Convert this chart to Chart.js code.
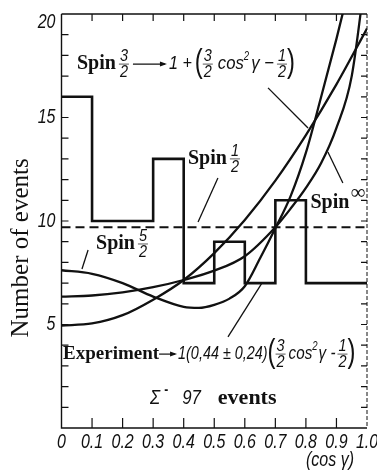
<!DOCTYPE html>
<html>
<head>
<meta charset="utf-8">
<script src="https://cdn.jsdelivr.net/npm/chart.js@4/dist/chart.umd.min.js"></script>
<style>
  html, body { margin: 0; padding: 0; background: #fff; }
  #wrap { width: 377px; height: 470px; position: relative; }
</style>
</head>
<body>
<div id="wrap"><canvas id="c" width="377" height="470"></canvas></div>
<script>
// Σ⁻ decay: distribution of cos γ for 97 events, ten bins of width 0.1
const binEdges    = [0, 0.1, 0.2, 0.3, 0.4, 0.5, 0.6, 0.7, 0.8, 0.9, 1.0];
const eventCounts = [16, 10, 10, 13, 7, 9, 7, 11, 7, 7];

// spin 1/2: isotropic level (97 events / 10 bins)
const isotropicLevel = 9.7;

// spin 3/2 prediction
const spin32Cos    = [0, 0.1, 0.2, 0.3, 0.4, 0.5, 0.6, 0.7, 0.8, 0.9, 1.0];
const spin32Events = [4.95, 5.05, 5.45, 6.2, 7.15, 8.45, 10.05, 11.95, 14.15, 16.6, 19.3];

// spin 5/2 prediction
const spin52Cos    = [0, 0.1, 0.2, 0.3, 0.4, 0.45, 0.5, 0.55, 0.6, 0.65, 0.7, 0.75, 0.8, 0.85, 0.9, 0.95];
const spin52Events = [7.62, 7.45, 7.0, 6.35, 5.85, 5.8, 5.95, 6.25, 6.85, 8.2, 9.65, 11.2, 13.3, 16.0, 18.8, 21.8];

// spin ∞ prediction
const spinInfCos    = [0, 0.1, 0.2, 0.3, 0.4, 0.5, 0.6, 0.7, 0.75, 0.8, 0.85, 0.9, 0.95, 1.0];
const spinInfEvents = [6.35, 6.4, 6.55, 6.8, 7.15, 7.6, 8.3, 9.7, 10.6, 11.6, 12.8, 14.5, 17.0, 22.5];

// axis labels
const xTickLabels = ['0', '0.1', '0.2', '0.3', '0.4', '0.5', '0.6', '0.7', '0.8', '0.9', '1.0'];
const yTickLabels = ['', '5', '10', '15', '20'];

const pts = (xs, ys) => xs.map((x, i) => ({ x, y: ys[i] }));

const SANS  = "'Liberation Sans', Arimo, 'DejaVu Sans', sans-serif";
const SERIF = "'Liberation Serif', 'DejaVu Serif', serif";
const INK = '#111';
const NARROW_K = 0.8;   // horizontal squeeze for the narrow italic lettering

// draw text squeezed horizontally; returns the advance width
function narrowText(ctx, t, x, y, font, k = NARROW_K, align = 'left') {
  ctx.font = font;
  const w = ctx.measureText(t).width * k;
  const x0 = align === 'center' ? x - w / 2 : align === 'right' ? x - w : x;
  ctx.save();
  ctx.translate(x0, y);
  ctx.scale(k, 1);
  ctx.textAlign = 'left';
  ctx.fillText(t, 0, 0);
  ctx.restore();
  return w;
}

// rich text: runs of words, stacked fractions, arrows and tall brackets
function drawRun(ctx, x, y, items) {
  ctx.textAlign = 'left';
  ctx.textBaseline = 'middle';
  for (const it of items) {
    if (it.gap) { x += it.gap; continue; }
    if (it.text !== undefined) {
      if (it.narrow) {
        x += narrowText(ctx, it.text, x, y + (it.dy || 0), it.font, it.k);
      } else {
        ctx.font = it.font;
        ctx.fillText(it.text, x, y + (it.dy || 0));
        x += ctx.measureText(it.text).width;
      }
    } else if (it.frac) {
      const [n, d] = it.frac;
      ctx.font = it.font;
      const w = Math.max(ctx.measureText(n).width, ctx.measureText(d).width) * 0.85 + 2;
      narrowText(ctx, n, x + w / 2, y - 8, it.font, 0.85, 'center');
      narrowText(ctx, d, x + w / 2, y + 8, it.font, 0.85, 'center');
      ctx.lineWidth = 0.7;
      ctx.beginPath(); ctx.moveTo(x, y); ctx.lineTo(x + w, y); ctx.stroke();
      x += w;
    } else if (it.arrow) {
      ctx.lineWidth = 1.2;
      ctx.beginPath(); ctx.moveTo(x, y); ctx.lineTo(x + it.arrow - 2, y); ctx.stroke();
      ctx.beginPath();
      ctx.moveTo(x + it.arrow, y);
      ctx.lineTo(x + it.arrow - 7, y - 2.5);
      ctx.lineTo(x + it.arrow - 7, y + 2.5);
      ctx.closePath(); ctx.fill();
      x += it.arrow;
    }
  }
  return x;
}

const notesPlugin = {
  id: 'frameAndNotes',
  afterDatasetsDraw(chart) {
    const { ctx, chartArea: a, scales: { x: sx, y: sy } } = chart;
    const px = v => sx.getPixelForValue(v);
    const py = v => sy.getPixelForValue(v);
    ctx.save();
    ctx.strokeStyle = INK;
    ctx.fillStyle = INK;

    // frame
    ctx.lineWidth = 1.4;
    ctx.beginPath();
    ctx.moveTo(a.left, a.top); ctx.lineTo(a.left, a.bottom); ctx.lineTo(a.right, a.bottom);
    ctx.moveTo(a.left, a.top); ctx.lineTo(a.right, a.top);
    ctx.stroke();
    ctx.lineWidth = 1;
    ctx.setLineDash([4, 2]);
    ctx.beginPath(); ctx.moveTo(a.right, a.top); ctx.lineTo(a.right, a.bottom); ctx.stroke();
    ctx.setLineDash([]);

    // inward ticks
    ctx.lineWidth = 1.2;
    ctx.beginPath();
    for (let v = 1; v < 20; v++) {
      const yy = py(v);
      ctx.moveTo(a.left, yy); ctx.lineTo(a.left + 7, yy);
      ctx.moveTo(a.right, yy); ctx.lineTo(a.right - 6, yy);
    }
    for (let i = 1; i < binEdges.length - 1; i++) {
      const xx = px(binEdges[i]);
      ctx.moveTo(xx, a.bottom); ctx.lineTo(xx, a.bottom - 10);
      ctx.moveTo(xx, a.top); ctx.lineTo(xx, a.top + 7);
    }
    ctx.stroke();

    // tick labels, placed by the scales' own ticks
    const tickFont = `italic 20px ${SANS}`;
    ctx.textBaseline = 'middle';
    sx.ticks.forEach((t, i) => {
      narrowText(ctx, xTickLabels[i], px(t.value), a.bottom + 14, tickFont, NARROW_K, 'center');
    });
    sy.ticks.forEach((t, i) => {
      const yy = Math.max(py(t.value), a.top + 8);
      narrowText(ctx, yTickLabels[i], a.left - 6, yy, tickFont, NARROW_K, 'right');
    });

    // pointer lines
    ctx.lineWidth = 1.3;
    const pointer = (x1, y1, x2, y2) => {
      ctx.beginPath(); ctx.moveTo(px(x1), py(y1)); ctx.lineTo(px(x2), py(y2)); ctx.stroke();
    };
    pointer(0.676, 16.43, 0.807, 14.49);   // spin 3/2
    pointer(0.512, 12.08, 0.447, 9.95);    // spin 1/2
    pointer(0.087, 8.60, 0.067, 7.68);     // spin 5/2
    pointer(0.921, 11.84, 0.872, 13.33);   // spin ∞
    pointer(0.545, 4.40, 0.656, 7.0);      // experiment

    const bold = `bold 20px ${SERIF}`;
    const it19 = `italic 19px ${SANS}`;
    const fr = `italic 17px ${SANS}`;
    const paren = `34px ${SANS}`;
    const sup = `italic 12px ${SANS}`;

    // spin 3/2 formula
    drawRun(ctx, px(0.0507), py(17.58), [
      { text: 'Spin', font: bold }, { gap: 3 },
      { frac: ['3', '2'], font: fr }, { gap: 4 },
      { arrow: 34 }, { gap: 2 },
      { text: '1 +', font: it19, narrow: true, k: 0.85 }, { gap: 3 },
      { text: '(', font: paren, narrow: true, k: 0.7, dy: -1 },
      { frac: ['3', '2'], font: fr }, { gap: 5 },
      { text: 'cos', font: it19, narrow: true, k: 0.88 }, { text: '2', font: sup, narrow: true, dy: -7 },
      { gap: 2 },
      { text: 'γ −', font: it19, narrow: true, k: 0.88 }, { gap: 3 },
      { frac: ['1', '2'], font: fr },
      { text: ')', font: paren, narrow: true, k: 0.7, dy: -1 }
    ]);

    // spin 1/2
    drawRun(ctx, px(0.414), py(13.0), [
      { text: 'Spin', font: bold }, { gap: 3 }, { frac: ['1', '2'], font: fr }
    ]);
    // spin 5/2
    drawRun(ctx, px(0.113), py(8.89), [
      { text: 'Spin', font: bold }, { gap: 3 }, { frac: ['5', '2'], font: fr }
    ]);
    // spin ∞
    drawRun(ctx, px(0.815), py(10.87), [
      { text: 'Spin', font: bold }, { gap: 1 }, { text: '∞', font: `21px ${SERIF}`, dy: -10 }
    ]);

    // experimental fit
    drawRun(ctx, px(0.005), py(3.57), [
      { text: 'Experiment', font: `bold 19px ${SERIF}` },
      { arrow: 18 }, { gap: 1 },
      { text: '1(0,44 ± 0,24)', font: `italic 18px ${SANS}`, narrow: true },
      { text: '(', font: paren, narrow: true, k: 0.7, dy: -1 },
      { frac: ['3', '2'], font: fr }, { gap: 3 },
      { text: 'cos', font: it19, narrow: true }, { text: '2', font: sup, narrow: true, dy: -7 },
      { gap: 1 },
      { text: 'γ -', font: it19, narrow: true }, { gap: 2 },
      { frac: ['1', '2'], font: fr },
      { text: ')', font: paren, narrow: true, k: 0.7, dy: -1 }
    ]);

    // sample
    drawRun(ctx, px(0.29), py(1.45), [
      { text: 'Σ', font: `italic 21px ${SANS}`, narrow: true }, { gap: 4 },
      { text: '-', font: `bold 15px ${SANS}`, narrow: true, dy: -8 }, { gap: 14 },
      { text: '97', font: `italic 21px ${SANS}`, narrow: true }, { gap: 17 },
      { text: 'events', font: `bold 22px ${SERIF}` }
    ]);

    // axis titles
    ctx.textBaseline = 'middle';
    narrowText(ctx, '(cos γ)', px(0.879), py(-1.59), `italic 20px ${SANS}`, NARROW_K, 'center');
    ctx.save();
    ctx.translate(px(-0.13), py(8.7));
    ctx.rotate(-Math.PI / 2);
    ctx.textAlign = 'center';
    ctx.font = `25px ${SERIF}`;
    ctx.fillText('Number of events', 0, 0);
    ctx.restore();

    ctx.restore();
  }
};

const lineStyle = { borderColor: INK, pointRadius: 0, fill: false, tension: 0 };

new Chart(document.getElementById('c'), {
  type: 'line',
  data: {
    datasets: [
      { ...lineStyle, label: 'Experiment', borderWidth: 2.6, stepped: 'before',
        data: binEdges.map((x, i) => ({ x, y: eventCounts[Math.min(i, eventCounts.length - 1)] })) },
      { ...lineStyle, label: 'Spin 1/2', borderWidth: 2, borderDash: [9, 5],
        data: [{ x: binEdges[0], y: isotropicLevel }, { x: binEdges[binEdges.length - 1], y: isotropicLevel }] },
      { ...lineStyle, label: 'Spin 3/2', borderWidth: 2.3, cubicInterpolationMode: 'monotone',
        data: pts(spin32Cos, spin32Events) },
      { ...lineStyle, label: 'Spin 5/2', borderWidth: 2.3, cubicInterpolationMode: 'monotone',
        data: pts(spin52Cos, spin52Events) },
      { ...lineStyle, label: 'Spin ∞', borderWidth: 2.3, cubicInterpolationMode: 'monotone',
        data: pts(spinInfCos, spinInfEvents) }
    ]
  },
  options: {
    responsive: false,
    animation: false,
    layout: { padding: { left: 0, right: 10, top: 14, bottom: 0 } },
    plugins: { legend: { display: false }, tooltip: { enabled: false } },
    scales: {
      x: {
        type: 'linear', min: 0, max: 1,
        afterFit: s => { s.height = 42; },
        grid: { display: false, drawTicks: false },
        border: { display: false },
        ticks: { stepSize: 0.1, autoSkip: false, display: false }
      },
      y: {
        type: 'linear', min: 0, max: 20,
        afterFit: s => { s.width = 61.5; },
        grid: { display: false, drawTicks: false },
        border: { display: false },
        ticks: { stepSize: 5, display: false }
      }
    }
  },
  plugins: [notesPlugin]
});
</script>
</body>
</html>
